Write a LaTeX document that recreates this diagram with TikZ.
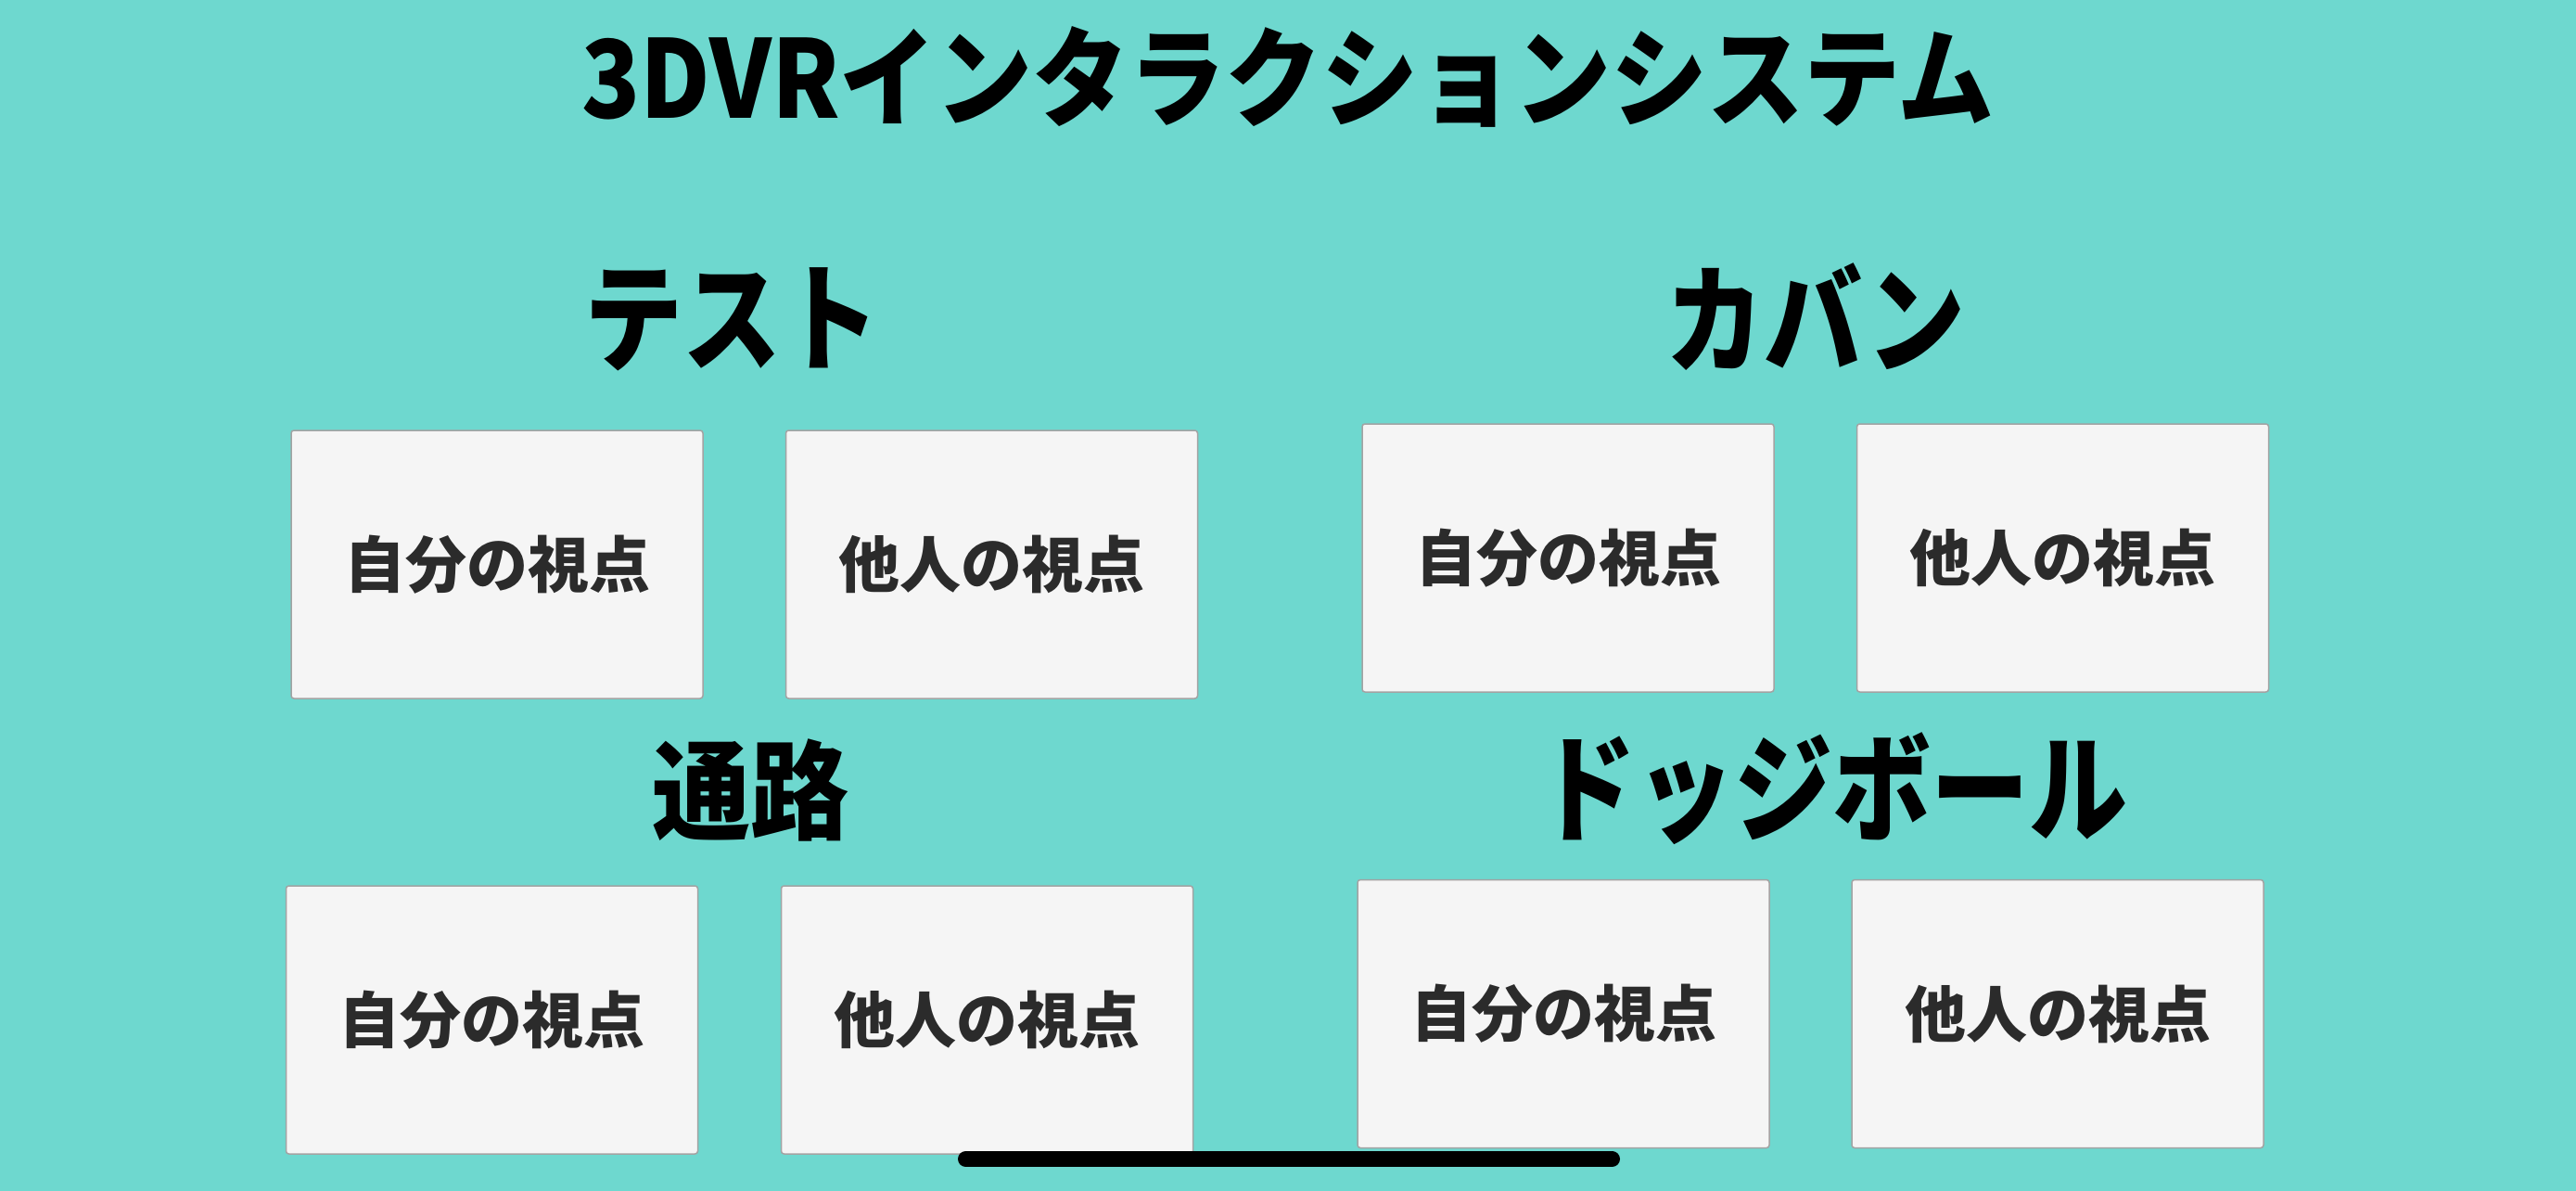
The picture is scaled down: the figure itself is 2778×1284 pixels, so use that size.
\documentclass[tikz,border=0pt]{standalone}
\usepackage{fontspec}
\usepackage{graphicx}
\newfontfamily\jp{Noto Sans CJK JP}
\definecolor{bg}{HTML}{6ED8CF}
\definecolor{card}{HTML}{F5F5F5}
\definecolor{cardline}{HTML}{A3A3A3}
\definecolor{ink}{HTML}{2B2B2B}
\begin{document}
\begin{tikzpicture}[x=1pt,y=-1pt,
  card/.style={draw=cardline, line width=1.5pt, fill=card, rounded corners=3pt,
    minimum width=444pt, minimum height=289pt, inner sep=0pt,
    font=\jp\bfseries\fontsize{66pt}{78pt}\selectfont, text=ink},
  head/.style={font=\jp\bfseries\fontsize{106pt}{120pt}\selectfont, inner sep=0pt, text=black},
  maintitle/.style={font=\jp\bfseries\fontsize{104pt}{120pt}\selectfont, inner sep=0pt, text=black}]
\fill[bg] (0,0) rectangle (2778,1284);
\useasboundingbox (0,0) rectangle (2778,1284);

\node[maintitle] (title) at (1389,83) {\scalebox{1}[1.12]{3DVRインタラクションシステム}};

\node[head] (h1) at (789,344) {\scalebox{1}[1.2]{テスト}};
\node[head] (h2) at (1958,342) {\scalebox{1}[1.2]{カバン}};
\node[head] (h3) at (809,852) {\scalebox{1}[1.1]{通路}};
\node[head] (h4) at (1976,850) {\scalebox{1}[1.2]{ドッジボール}};

\node[card] (c1) at (536,608.5) {自分の視点};
\node[card] (c2) at (1069.5,608.5) {他人の視点};
\node[card] (c3) at (1691,601.5) {自分の視点};
\node[card] (c4) at (2224.5,601.5) {他人の視点};
\node[card] (c5) at (530.5,1099.5) {自分の視点};
\node[card] (c6) at (1064.5,1099.5) {他人の視点};
\node[card] (c7) at (1686,1093) {自分の視点};
\node[card] (c8) at (2219,1093) {他人の視点};

\coordinate (hb1) at (1041.5,1249.5);
\coordinate (hb2) at (1738.5,1249.5);
\draw[line width=17pt, line cap=round, black] (hb1) -- (hb2);
\end{tikzpicture}
\end{document}
